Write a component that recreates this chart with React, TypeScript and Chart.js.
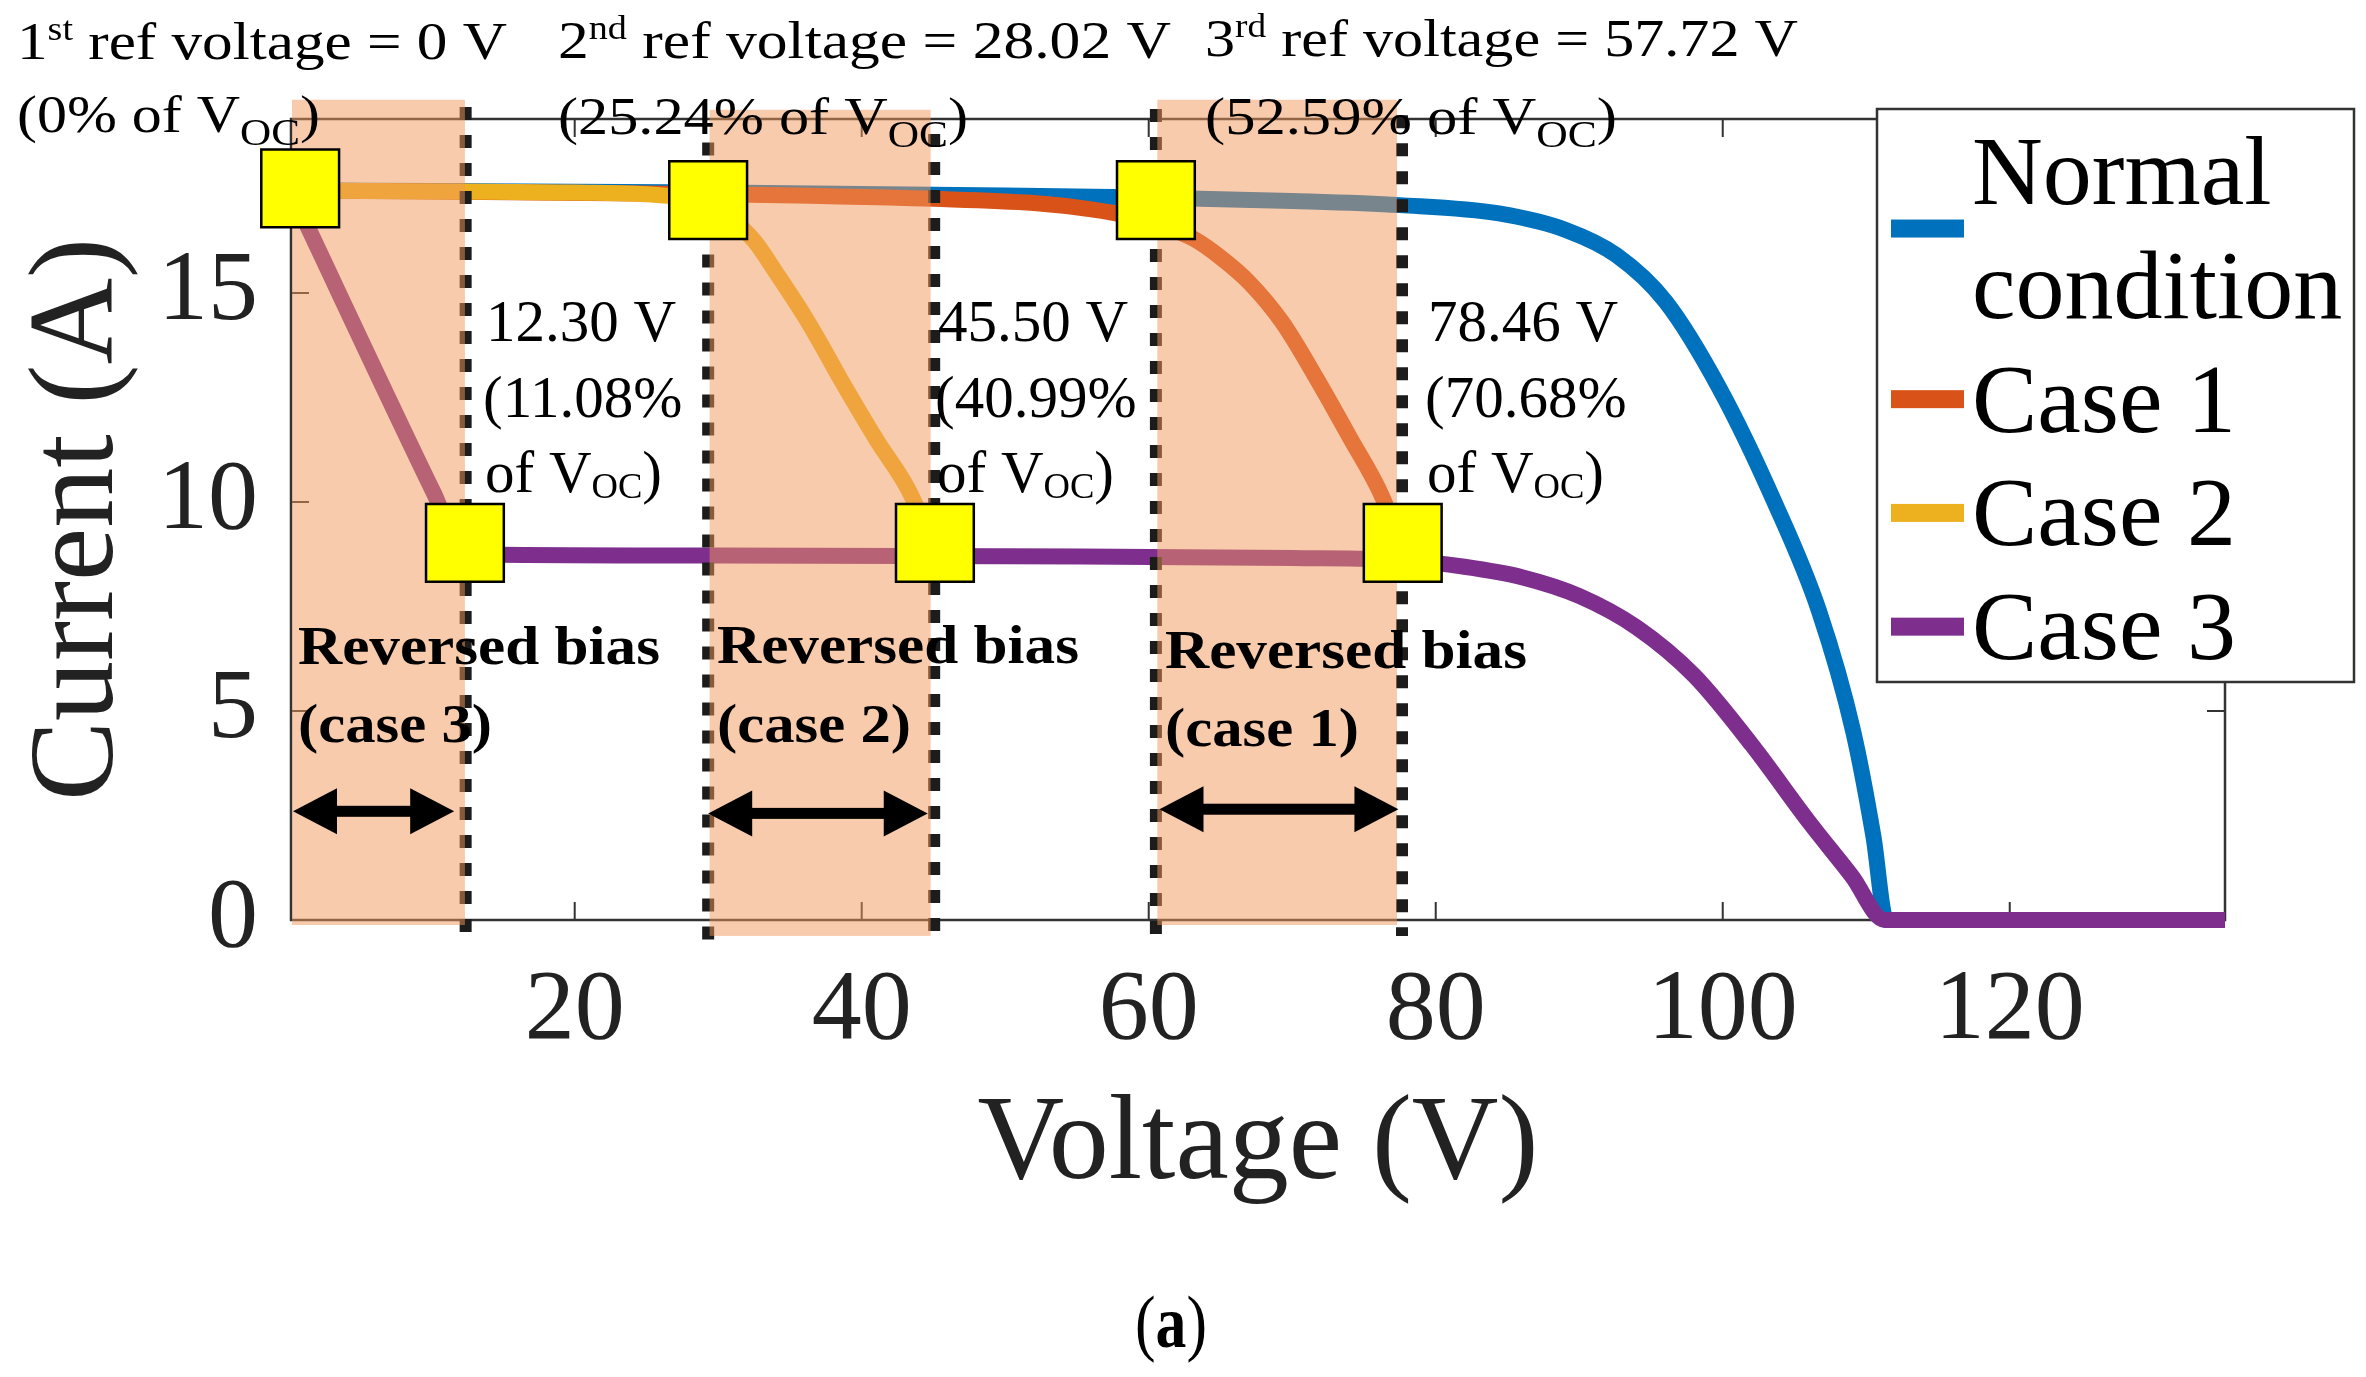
import React, { useEffect, useRef } from 'react';
import { Chart, registerables } from 'chart.js';

Chart.register(...registerables);

const SERIF = '"Liberation Serif", "Times New Roman", Times, serif';

// ---------------- data (voltage V, current A) ----------------
const normalV = [0, 30, 50, 60, 70, 77.5, 84.4, 89.1, 92.6, 96.0, 99.8, 103.6, 106.7, 109.1, 110.5, 111.4, 135];
const normalI = [17.45, 17.4, 17.33, 17.28, 17.2, 17.1, 16.9, 16.5, 15.9, 14.8, 12.7, 10.0, 7.4, 4.5, 2.0, 0, 0];

const case1V = [0, 30, 45, 52, 56, 58.5, 61, 63.1, 65, 67, 69.3, 71.7, 74, 76.3, 77.7];
const case1I = [17.45, 17.36, 17.25, 17.15, 17.0, 16.85, 16.6, 16.3, 15.85, 15.25, 14.3, 12.95, 11.55, 10.1, 8.8];

const case2V = [0, 20, 27, 29.3, 31, 32.5, 34.1, 36, 37.2, 38.5, 41, 43.6, 45.0];
const case2I = [17.45, 17.4, 17.3, 17.1, 16.75, 16.25, 15.45, 14.45, 13.75, 12.95, 11.5, 10.05, 8.7];

const case3V = [0.2, 10.2, 12.3, 30, 50, 70, 78, 82, 86, 90, 94, 98, 102, 106, 109, 111.3, 135];
const case3I = [17.45, 10.2, 8.75, 8.72, 8.7, 8.66, 8.6, 8.45, 8.2, 7.75, 7.0, 5.85, 4.2, 2.35, 1.05, 0, 0];

const seriesLabels = ['Normal condition', 'Case 1', 'Case 2', 'Case 3'];
const seriesColors = ['#0072BD', '#D95319', '#EDB120', '#7E2F8E'];

// yellow square markers (reference / bypass points)
const markerV = [0.87, 29.3, 60.5, 12.35, 45.1, 77.7];
const markerI = [17.5, 17.22, 17.22, 9.02, 9.02, 9.02];

// dashed vertical reference lines
const refLineV = [12.4, 29.3, 45.05, 60.5, 77.65];
const refLineTopI = [19.45, 18.6, 18.8, 19.4, 19.25];
const refLineBottomI = [-0.35, -0.55, -0.4, -0.43, -0.38];

// reversed-bias shaded bands
const biasFromV = [0.3, 29.4, 60.6];
const biasToV = [12.35, 44.8, 77.3];
const biasTopI = [19.62, 19.38, 19.62];
const biasBottomI = [-0.12, -0.38, -0.12];
const biasCase = [3, 2, 1];

// double arrows
const arrowFromV = [0.37, 29.3, 60.75];
const arrowToV = [11.6, 44.6, 77.4];
const arrowI = [2.6, 2.55, 2.65];

// annotation values
const refVoltages = [0, 28.02, 57.72];
const refPercents = [0, 25.24, 52.59];
const bypassVoltages = [12.3, 45.5, 78.46];
const bypassPercents = [11.08, 40.99, 70.68];
const ordinals = ['st', 'nd', 'rd'];

const xTickValues = [20, 40, 60, 80, 100, 120];
const yTickValues = [0, 5, 10, 15];
const X_MIN = 0.23;
const X_MAX = 135;
const Y_MIN = 0;
const Y_MAX = 19.16;

// ---------------- layout (pixels) ----------------
const W = 2366;
const H = 1377;
const AREA = { left: 291, right: 2225, top: 119, bottom: 920 };
const TOP_TXT = { x: [17, 558, 1205], y1: [59, 58, 56], y2: [132, 134, 134], w1: [490, 613, 593], w2: [303, 410, 412], size: 53 };
const MID_TXT = { x: [486, 938, 1428], y: [341, 417, 492], size: 59 };
const BOLD_TXT = { x: [298, 717, 1165], y1: [664, 663, 668], y2: [742, 742, 746], w1: 362, w2: 194, size: 55 };
const LEGEND = { x: 1877, y: 109, w: 477, h: 573, textX: 1972, swX: 1891, swW: 73, swH: 18, firstBase: 204, lineH: 113.75, size: 98 };

type Seg = { t: string; sup?: boolean; sub?: boolean; bold?: boolean };
interface TextItem {
  segs: Seg[];
  x: number;
  y: number;
  size: number;
  width?: number;
  bold?: boolean;
  sub?: [number, number];
  align?: 'left' | 'center';
}

const fmt = (v: number) => (v === 0 ? '0' : v.toFixed(2));

function buildTexts(): TextItem[] {
  const items: TextItem[] = [];
  for (let i = 0; i < 3; i++) {
    items.push({
      segs: [{ t: String(i + 1) }, { t: ordinals[i], sup: true }, { t: ` ref voltage = ${fmt(refVoltages[i])} V` }],
      x: TOP_TXT.x[i], y: TOP_TXT.y1[i], size: TOP_TXT.size, width: TOP_TXT.w1[i],
    });
    items.push({
      segs: [{ t: `(${fmt(refPercents[i])}% of V` }, { t: 'OC', sub: true }, { t: ')' }],
      x: TOP_TXT.x[i], y: TOP_TXT.y2[i], size: TOP_TXT.size, width: TOP_TXT.w2[i], sub: [0.72, 0.25],
    });
    items.push({ segs: [{ t: `${bypassVoltages[i].toFixed(2)} V` }], x: MID_TXT.x[i], y: MID_TXT.y[0], size: MID_TXT.size });
    items.push({ segs: [{ t: `(${bypassPercents[i].toFixed(2)}%` }], x: MID_TXT.x[i] - 3, y: MID_TXT.y[1], size: MID_TXT.size });
    items.push({
      segs: [{ t: 'of V' }, { t: 'OC', sub: true }, { t: ')' }],
      x: MID_TXT.x[i] - 1, y: MID_TXT.y[2], size: MID_TXT.size, sub: [0.62, 0.1],
    });
    items.push({ segs: [{ t: 'Reversed bias' }], x: BOLD_TXT.x[i], y: BOLD_TXT.y1[i], size: BOLD_TXT.size, width: BOLD_TXT.w1, bold: true });
    items.push({ segs: [{ t: `(case ${biasCase[i]})` }], x: BOLD_TXT.x[i], y: BOLD_TXT.y2[i], size: BOLD_TXT.size, width: BOLD_TXT.w2, bold: true });
  }
  items.push({ segs: [{ t: '(' }, { t: 'a', bold: true }, { t: ')' }], x: 1171, y: 1347, size: 74, width: 72, align: 'center' });
  return items;
}

function drawRich(ctx: CanvasRenderingContext2D, item: TextItem) {
  const { segs, x, y, size, width, bold, align } = item;
  const [subScale, subDy] = item.sub || [0.65, 0.2];
  const fontOf = (s: Seg) => {
    const sz = s.sup ? size * 0.62 : s.sub ? size * subScale : size;
    return `${bold || s.bold ? 'bold ' : ''}${sz}px ${SERIF}`;
  };
  ctx.save();
  const widths = segs.map((s) => {
    ctx.font = fontOf(s);
    return ctx.measureText(s.t).width;
  });
  const natural = widths.reduce((a, b) => a + b, 0);
  const sx = width ? width / natural : 1;
  const total = natural * sx;
  const x0 = align === 'center' ? x - total / 2 : x;
  ctx.translate(x0, y);
  ctx.scale(sx, 1);
  ctx.fillStyle = '#000';
  ctx.textAlign = 'left';
  ctx.textBaseline = 'alphabetic';
  let cx = 0;
  segs.forEach((s, i) => {
    ctx.font = fontOf(s);
    const dy = s.sup ? -size * 0.36 : s.sub ? size * subDy : 0;
    ctx.fillText(s.t, cx, dy);
    cx += widths[i];
  });
  ctx.restore();
}

const MARKER_INDEX = 4;

const annotPlugin = {
  id: 'ivAnnotations',
  beforeDatasetsDraw(chart: any) {
    const { ctx, chartArea: a, scales } = chart;
    const xs = scales.x;
    const ys = scales.y;
    ctx.save();
    ctx.strokeStyle = '#333';
    ctx.lineWidth = 2.5;
    ctx.strokeRect(a.left, a.top, a.right - a.left, a.bottom - a.top);
    const tl = 18;
    ctx.beginPath();
    xTickValues.forEach((v) => {
      const px = xs.getPixelForValue(v);
      ctx.moveTo(px, a.bottom);
      ctx.lineTo(px, a.bottom - tl);
      ctx.moveTo(px, a.top);
      ctx.lineTo(px, a.top + tl);
    });
    yTickValues.forEach((v) => {
      const py = ys.getPixelForValue(v);
      ctx.moveTo(a.left, py);
      ctx.lineTo(a.left + tl, py);
      ctx.moveTo(a.right, py);
      ctx.lineTo(a.right - tl, py);
    });
    ctx.lineWidth = 2;
    ctx.stroke();
    ctx.restore();
  },
  beforeDatasetDraw(chart: any, args: any) {
    if (args.index !== MARKER_INDEX) return;
    const { ctx, scales } = chart;
    const xs = scales.x;
    const ys = scales.y;
    ctx.save();
    // dashed reference lines
    ctx.strokeStyle = '#1c1c1c';
    ctx.lineWidth = 12;
    ctx.setLineDash([13, 15]);
    ctx.lineCap = 'butt';
    refLineV.forEach((v, i) => {
      const px = xs.getPixelForValue(v);
      ctx.beginPath();
      ctx.moveTo(px, ys.getPixelForValue(refLineTopI[i]));
      ctx.lineTo(px, ys.getPixelForValue(refLineBottomI[i]));
      ctx.stroke();
    });
    ctx.setLineDash([]);
    // shaded reversed-bias bands
    ctx.fillStyle = 'rgba(241,151,91,0.5)';
    biasFromV.forEach((v, i) => {
      const x1 = xs.getPixelForValue(v);
      const x2 = xs.getPixelForValue(biasToV[i]);
      const y1 = ys.getPixelForValue(biasTopI[i]);
      const y2 = ys.getPixelForValue(biasBottomI[i]);
      ctx.fillRect(x1, y1, x2 - x1, y2 - y1);
    });
    ctx.restore();
  },
  afterDatasetsDraw(chart: any) {
    const { ctx, scales } = chart;
    const xs = scales.x;
    const ys = scales.y;
    // arrows
    ctx.save();
    ctx.fillStyle = '#000';
    const hl = 44;
    const hw = 23;
    const sw = 11;
    arrowFromV.forEach((v, i) => {
      const x1 = xs.getPixelForValue(v);
      const x2 = xs.getPixelForValue(arrowToV[i]);
      const yy = ys.getPixelForValue(arrowI[i]);
      ctx.fillRect(x1 + hl * 0.8, yy - sw / 2, x2 - x1 - hl * 1.6, sw);
      ctx.beginPath();
      ctx.moveTo(x1, yy);
      ctx.lineTo(x1 + hl, yy - hw);
      ctx.lineTo(x1 + hl, yy + hw);
      ctx.closePath();
      ctx.fill();
      ctx.beginPath();
      ctx.moveTo(x2, yy);
      ctx.lineTo(x2 - hl, yy - hw);
      ctx.lineTo(x2 - hl, yy + hw);
      ctx.closePath();
      ctx.fill();
    });
    ctx.restore();
    // texts
    buildTexts().forEach((t) => drawRich(ctx, t));
    // legend
    ctx.save();
    ctx.fillStyle = '#fff';
    ctx.fillRect(LEGEND.x, LEGEND.y, LEGEND.w, LEGEND.h);
    ctx.strokeStyle = '#333';
    ctx.lineWidth = 2.5;
    ctx.strokeRect(LEGEND.x, LEGEND.y, LEGEND.w, LEGEND.h);
    ctx.font = `${LEGEND.size}px ${SERIF}`;
    ctx.textBaseline = 'alphabetic';
    ctx.textAlign = 'left';
    let base = LEGEND.firstBase;
    const capMid = LEGEND.size * 0.33;
    chart.data.datasets.slice(0, 4).forEach((ds: any) => {
      const label: string = ds.label;
      const lines = ctx.measureText(label).width > LEGEND.w - (LEGEND.textX - LEGEND.x) - 10 ? label.split(' ') : [label];
      const first = base - capMid;
      const last = base + (lines.length - 1) * LEGEND.lineH - capMid;
      const cy = (first + last) / 2;
      ctx.fillStyle = ds.borderColor;
      ctx.fillRect(LEGEND.swX, cy - LEGEND.swH / 2, LEGEND.swW, LEGEND.swH);
      ctx.fillStyle = '#000';
      lines.forEach((ln, k) => ctx.fillText(ln, LEGEND.textX, base + k * LEGEND.lineH));
      base += lines.length * LEGEND.lineH;
    });
    ctx.restore();
  },
};

const toPoints = (xs: number[], ys: number[]) => xs.map((x, i) => ({ x, y: ys[i] }));

export default function App() {
  const ref = useRef<HTMLCanvasElement | null>(null);

  useEffect(() => {
    const canvas = ref.current;
    if (!canvas) return;
    Chart.defaults.font.family = SERIF;
    const seriesV = [normalV, case1V, case2V, case3V];
    const seriesI = [normalI, case1I, case2I, case3I];
    const lineSets = seriesLabels.map((label, i) => ({
      type: 'line' as const,
      label,
      data: toPoints(seriesV[i], seriesI[i]),
      borderColor: seriesColors[i],
      backgroundColor: seriesColors[i],
      borderWidth: 16,
      pointRadius: 0,
      fill: false,
      cubicInterpolationMode: 'monotone' as const,
      borderCapStyle: 'butt' as const,
      borderJoinStyle: 'round' as const,
      order: 5 - i,
      clip: { left: 0, top: 30, right: 0, bottom: 30 },
    }));
    const markerSet = {
      type: 'line' as const,
      label: 'markers',
      data: toPoints(markerV, markerI),
      showLine: false,
      pointStyle: 'rect' as const,
      pointRadius: 55,
      pointBackgroundColor: '#FFFF00',
      pointBorderColor: '#000',
      pointBorderWidth: 2.5,
      order: 0,
      clip: false as const,
    };
    const chart = new Chart(canvas, {
      type: 'line',
      data: { datasets: [...lineSets, markerSet] as any },
      options: {
        responsive: false,
        animation: false,
        devicePixelRatio: 1,
        events: [],
        layout: { padding: { left: 0, top: AREA.top, right: W - AREA.right, bottom: 0 } },
        plugins: { legend: { display: false }, tooltip: { enabled: false } },
        scales: {
          x: {
            type: 'linear',
            min: X_MIN,
            max: X_MAX,
            grid: { display: false, drawTicks: false },
            border: { display: false },
            afterBuildTicks: (s: any) => {
              s.ticks = xTickValues.map((v) => ({ value: v }));
            },
            afterFit: (s: any) => {
              s.height = H - AREA.bottom;
            },
            ticks: {
              font: { family: SERIF, size: 100, lineHeight: 1.2 },
              color: '#222',
              padding: 32,
              maxRotation: 0,
              autoSkip: false,
            },
            title: {
              display: true,
              text: 'Voltage (V)',
              font: { family: SERIF, size: 120, lineHeight: 1.2 },
              color: '#222',
              padding: { top: 0, bottom: 159 },
            },
          },
          y: {
            type: 'linear',
            min: Y_MIN,
            max: Y_MAX,
            grid: { display: false, drawTicks: false },
            border: { display: false },
            afterBuildTicks: (s: any) => {
              s.ticks = yTickValues.map((v) => ({ value: v }));
            },
            afterFit: (s: any) => {
              s.width = AREA.left;
            },
            ticks: {
              font: { family: SERIF, size: 100, lineHeight: 1.2 },
              color: '#222',
              padding: 33,
              autoSkip: false,
            },
            title: {
              display: true,
              text: 'Current (A)',
              font: { family: SERIF, size: 120, lineHeight: 1.2 },
              color: '#222',
              padding: { top: 8, bottom: 0 },
            },
          },
        },
      },
      plugins: [annotPlugin],
    } as any);
    return () => chart.destroy();
  }, []);

  return (
    <div style={{ position: 'fixed', left: 0, top: 0, width: W, height: H, background: '#fff' }}>
      <canvas ref={ref} width={W} height={H} style={{ display: 'block', width: `${W}px`, height: `${H}px` }} />
    </div>
  );
}
